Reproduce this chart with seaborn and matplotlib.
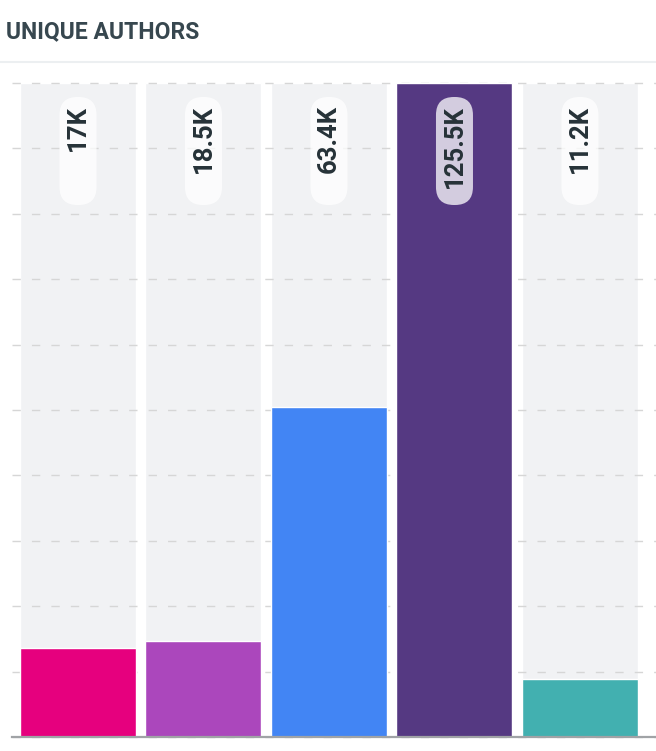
import numpy as np
import pandas as pd
import seaborn as sns
import matplotlib.pyplot as plt
import matplotlib.transforms as mtransforms
from matplotlib.patches import FancyBboxPatch
from matplotlib.lines import Line2D

# data (thousands of unique authors)
categories = ["s1", "s2", "s3", "s4", "s5"]
values = [17.0, 18.5, 63.4, 125.5, 11.2]
bar_labels = ["17K", "18.5K", "63.4K", "125.5K", "11.2K"]
bar_colors = ["#e6007e", "#ab47bc", "#4285f4", "#553982", "#42b0b0"]
title = "UNIQUE AUTHORS"

sns.set_theme(style="white")
plt.rcParams['font.family'] = ['Roboto', 'DejaVu Sans']

df = pd.DataFrame({"cat": categories, "val": values})
vmax = max(values)
df["full"] = vmax

W, H = 656, 751
fig = plt.figure(figsize=(W / 100, H / 100), dpi=100)
ax = fig.add_axes([12 / W, 1 - 737 / H, 1 - 12 / W, (737 - 83) / H])

bw = 116 / 125.5
# grey track behind every bar
sns.barplot(data=df, x="cat", y="full", color="#f1f2f4", width=bw,
            saturation=1, ax=ax, zorder=0.2)
sns.barplot(data=df, x="cat", y="val", hue="cat", palette=bar_colors,
            width=bw, saturation=1, dodge=False, legend=False, ax=ax, zorder=2)

ax.set_xlim(-0.526, 4.606)
ax.set_ylim(0, vmax)
ax.set_yticks(np.linspace(0, vmax, 11))
ax.set_axisbelow(True)
ax.yaxis.grid(True, color="#d6d6d6", linestyle=(0, (6, 8)), linewidth=1.0)
for gl in ax.get_ygridlines():
    gl.set_clip_on(False)
ax.tick_params(left=False, bottom=False, labelleft=False, labelbottom=False)
ax.set_xlabel("")
ax.set_ylabel("")
for s in ["left", "right", "top"]:
    ax.spines[s].set_visible(False)
ax.spines["bottom"].set_color("#a0a3a6")
ax.spines["bottom"].set_linewidth(1.6)
ax.spines["bottom"].set_zorder(3)

# value pills
pix = mtransforms.IdentityTransform()
top_px = H - 83
for i, lab in enumerate(bar_labels):
    cx = ax.transData.transform((i, 0))[0]
    pw, r = 37, 18
    y0, y1 = top_px - 122, top_px - 14
    pill = FancyBboxPatch((cx - pw / 2, y0), pw, y1 - y0,
                          boxstyle=f"round,pad=0,rounding_size={r}",
                          transform=pix, facecolor="white", alpha=0.75,
                          edgecolor="none", zorder=4, clip_on=False)
    ax.add_artist(pill)
    tr = mtransforms.offset_copy(ax.get_xaxis_transform(), fig=fig,
                                 x=0, y=-22, units="dots")
    ax.text(i, 1.0, lab, transform=tr, rotation=90, ha="center", va="top",
            fontsize=18.5, fontweight="bold", color="#263238", zorder=5)

# header
fig.text(6 / W, 1 - 32 / H, title, ha="left", va="center", fontsize=16.6,
         fontweight="bold", color="#37474f")
fig.add_artist(Line2D([0, 1], [1 - 62 / H, 1 - 62 / H], transform=fig.transFigure,
                      color="#eceff1", linewidth=1.5))

fig.savefig("out.png", dpi=100)
